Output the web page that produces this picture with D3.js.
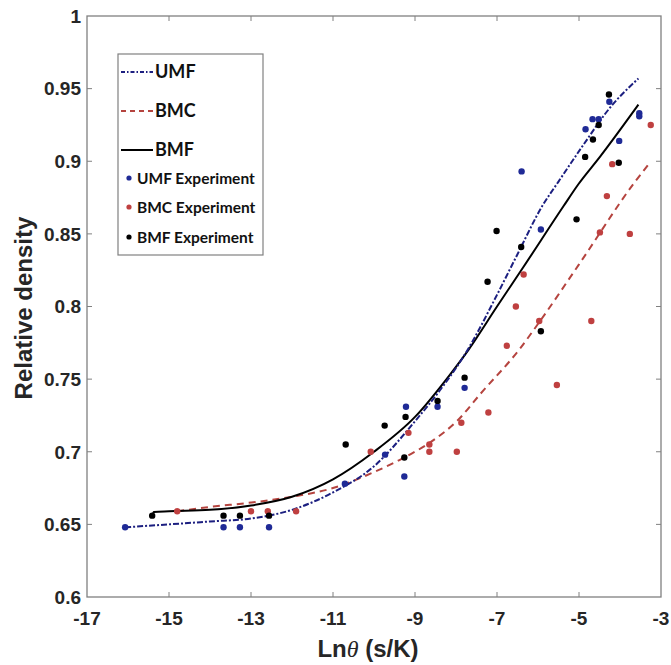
<!DOCTYPE html>
<html>
<head>
<meta charset="utf-8">
<script src="https://cdn.jsdelivr.net/npm/d3@7"></script>
<style>
  body { margin: 0; background: #fff; }
  svg { display: block; }
</style>
</head>
<body>
<svg id="chart"></svg>
<script>
// values
const xTicks = [-17, -15, -13, -11, -9, -7, -5, -3];
const yTicks = [0.6, 0.65, 0.7, 0.75, 0.8, 0.85, 0.9, 0.95, 1];
const yTickLabels = ["0.6", "0.65", "0.7", "0.75", "0.8", "0.85", "0.9", "0.95", "1"];

// fitted curves
const umfCurve = [[-16.07, 0.648], [-15, 0.650], [-14, 0.652], [-13, 0.654], [-12, 0.660],
  [-11, 0.672], [-10, 0.690], [-9, 0.721], [-8.4, 0.742], [-7.74, 0.769], [-7, 0.808],
  [-6.5, 0.836], [-5.9, 0.869], [-5.5, 0.886], [-4.9, 0.911], [-4.24, 0.937], [-3.55, 0.957]];
const bmcCurve = [[-14.8, 0.659], [-14, 0.662], [-13, 0.665], [-12, 0.669], [-11, 0.675],
  [-10, 0.686], [-9.4, 0.694], [-8.5, 0.709], [-7.98, 0.721], [-7.4, 0.740], [-6.44, 0.771],
  [-5.95, 0.790], [-5, 0.829], [-3.63, 0.886], [-3.27, 0.899]];
const bmfCurve = [[-15.41, 0.6555], [-15.37, 0.6585], [-15, 0.659], [-14, 0.660], [-13, 0.663],
  [-12, 0.669], [-11, 0.681], [-10, 0.700], [-9, 0.724], [-8.15, 0.753], [-7.7, 0.770],
  [-7, 0.800], [-6.36, 0.827], [-5.38, 0.869], [-5.02, 0.884], [-4.49, 0.903], [-3.55, 0.939]];

// experiments
const umfExp = [[-16.07, 0.648], [-13.67, 0.648], [-13.27, 0.648], [-12.56, 0.648],
  [-10.71, 0.678], [-9.73, 0.698], [-9.22, 0.731], [-9.26, 0.683], [-8.45, 0.731],
  [-7.79, 0.744], [-6.4, 0.893], [-5.93, 0.853], [-4.84, 0.922], [-4.67, 0.929],
  [-4.52, 0.929], [-4.26, 0.941], [-4.02, 0.914], [-3.53, 0.933], [-3.53, 0.931]];
const bmcExp = [[-14.8, 0.659], [-13.0, 0.659], [-12.59, 0.659], [-11.9, 0.659],
  [-10.08, 0.700], [-9.16, 0.713], [-8.65, 0.705], [-8.65, 0.700], [-7.98, 0.700],
  [-7.87, 0.720], [-7.21, 0.727], [-6.76, 0.773], [-6.54, 0.800], [-6.35, 0.822],
  [-5.97, 0.790], [-5.54, 0.746], [-4.7, 0.790], [-4.49, 0.851], [-3.76, 0.850],
  [-4.19, 0.898], [-4.32, 0.876], [-3.25, 0.925]];
const bmfExp = [[-15.41, 0.656], [-13.67, 0.656], [-13.27, 0.656], [-12.56, 0.656],
  [-10.69, 0.705], [-9.74, 0.718], [-9.23, 0.724], [-9.26, 0.696], [-8.45, 0.735],
  [-7.79, 0.751], [-7.23, 0.817], [-7.01, 0.852], [-6.41, 0.841], [-5.93, 0.783],
  [-5.06, 0.860], [-4.85, 0.903], [-4.66, 0.915], [-4.52, 0.925], [-4.27, 0.946],
  [-4.03, 0.899]];

const width = 671, height = 665;
const margin = {left: 87, right: 10, top: 16, bottom: 68};

const svg = d3.select("#chart").attr("width", width).attr("height", height);

const x = d3.scaleLinear().domain([-17, -3]).range([margin.left, width - margin.right]);
const y = d3.scaleLinear().domain([0.6, 1]).range([height - margin.bottom, margin.top]);

const axisColor = "#808080";
const textColor = "#262626";
const tickLen = 5;

// frame
svg.append("rect")
  .attr("x", x(-17)).attr("y", y(1))
  .attr("width", x(-3) - x(-17)).attr("height", y(0.6) - y(1))
  .attr("fill", "none").attr("stroke", axisColor).attr("stroke-width", 1.3);

// inward ticks, all four sides
const inner = (arr, lo, hi) => arr.filter(d => d > lo && d < hi);
const ticks = svg.append("g").attr("stroke", axisColor).attr("stroke-width", 1);
inner(xTicks, -17, -3).forEach(d => {
  ticks.append("line").attr("x1", x(d)).attr("x2", x(d)).attr("y1", y(0.6)).attr("y2", y(0.6) - tickLen);
  ticks.append("line").attr("x1", x(d)).attr("x2", x(d)).attr("y1", y(1)).attr("y2", y(1) + tickLen);
});
inner(yTicks, 0.6, 1).forEach(d => {
  ticks.append("line").attr("x1", x(-17)).attr("x2", x(-17) + tickLen).attr("y1", y(d)).attr("y2", y(d));
  ticks.append("line").attr("x1", x(-3)).attr("x2", x(-3) - tickLen).attr("y1", y(d)).attr("y2", y(d));
});

// tick labels
svg.append("g").selectAll("text").data(yTicks).enter().append("text")
  .attr("x", x(-17) - 6).attr("y", d => y(d))
  .attr("dy", "0.36em")
  .attr("text-anchor", "end")
  .style("font-family", "'Liberation Sans', Arial, sans-serif")
  .style("font-weight", "bold").style("font-size", "19px")
  .style("fill", textColor)
  .text((d, i) => yTickLabels[i]);

svg.append("g").selectAll("text").data(xTicks).enter().append("text")
  .attr("x", d => x(d)).attr("y", y(0.6) + 28)
  .attr("text-anchor", "middle")
  .style("font-family", "'Liberation Sans', Arial, sans-serif")
  .style("font-weight", "bold").style("font-size", "19px")
  .style("fill", textColor)
  .text(d => d);

// axis titles
const xt = svg.append("text")
  .attr("x", 368).attr("y", 657)
  .attr("text-anchor", "middle")
  .style("font-family", "'Liberation Sans', Arial, sans-serif")
  .style("font-weight", "bold").style("font-size", "24px")
  .style("fill", textColor);
xt.append("tspan").text("Ln");
xt.append("tspan").text("θ")
  .style("font-family", "'Liberation Serif', 'Times New Roman', serif")
  .style("font-style", "italic").style("font-weight", "normal");
xt.append("tspan").text(" (s/K)");

svg.append("text")
  .attr("transform", "translate(32,308) rotate(-90)")
  .attr("text-anchor", "middle")
  .style("font-family", "'Liberation Sans', Arial, sans-serif")
  .style("font-weight", "bold").style("font-size", "24px")
  .style("fill", textColor)
  .text("Relative density");

// curves
const line = d3.line().x(d => x(d[0])).y(d => y(d[1])).curve(d3.curveMonotoneX);

const umfColor = "#1c1f80", bmcColor = "#b5443f", bmfColor = "#000";
const umfDot = "#1f2a96", bmcDot = "#bf4040", bmfDot = "#000";

svg.append("path").datum(bmcCurve).attr("d", line)
  .attr("fill", "none").attr("stroke", bmcColor).attr("stroke-width", 2)
  .attr("stroke-dasharray", "7,5");
svg.append("path").datum(bmfCurve).attr("d", line)
  .attr("fill", "none").attr("stroke", bmfColor).attr("stroke-width", 2);
svg.append("path").datum(umfCurve).attr("d", line)
  .attr("fill", "none").attr("stroke", umfColor).attr("stroke-width", 2)
  .attr("stroke-dasharray", "6,2,2,2");

// experiment points
function dots(data, color) {
  svg.append("g").selectAll("circle").data(data).enter().append("circle")
    .attr("cx", d => x(d[0])).attr("cy", d => y(d[1]))
    .attr("r", 3.2).attr("fill", color);
}
dots(bmcExp, bmcDot);
dots(umfExp, umfDot);
dots(bmfExp, bmfDot);

// legend
const lg = svg.append("g");
lg.append("rect")
  .attr("x", 118).attr("y", 54).attr("width", 145).attr("height", 201)
  .attr("fill", "#fff").attr("stroke", axisColor).attr("stroke-width", 1.2);

const lineItems = [
  {label: "UMF", color: umfColor, dash: "4,2,1.5,2", y: 72},
  {label: "BMC", color: bmcColor, dash: "5,4", y: 111},
  {label: "BMF", color: bmfColor, dash: null, y: 150}
];
lineItems.forEach(it => {
  lg.append("line").attr("x1", 121).attr("x2", 153).attr("y1", it.y).attr("y2", it.y)
    .attr("stroke", it.color).attr("stroke-width", 2)
    .attr("stroke-dasharray", it.dash);
  lg.append("text").attr("x", 155).attr("y", it.y).attr("dy", "0.36em")
    .style("font-family", "Lato, 'Open Sans', sans-serif")
    .style("font-weight", "bold").style("font-size", "18px")
    .style("fill", "#111")
    .text(it.label);
});

const dotItems = [
  {label: "UMF Experiment", color: umfDot, y: 178},
  {label: "BMC Experiment", color: bmcDot, y: 207},
  {label: "BMF Experiment", color: bmfDot, y: 237}
];
dotItems.forEach(it => {
  lg.append("circle").attr("cx", 129).attr("cy", it.y).attr("r", 2.6).attr("fill", it.color);
  lg.append("text").attr("x", 137).attr("y", it.y).attr("dy", "0.36em")
    .style("font-family", "Lato, 'Open Sans', sans-serif")
    .style("font-weight", "bold").style("font-size", "15.5px")
    .style("fill", "#111")
    .text(it.label);
});
</script>
</body>
</html>
